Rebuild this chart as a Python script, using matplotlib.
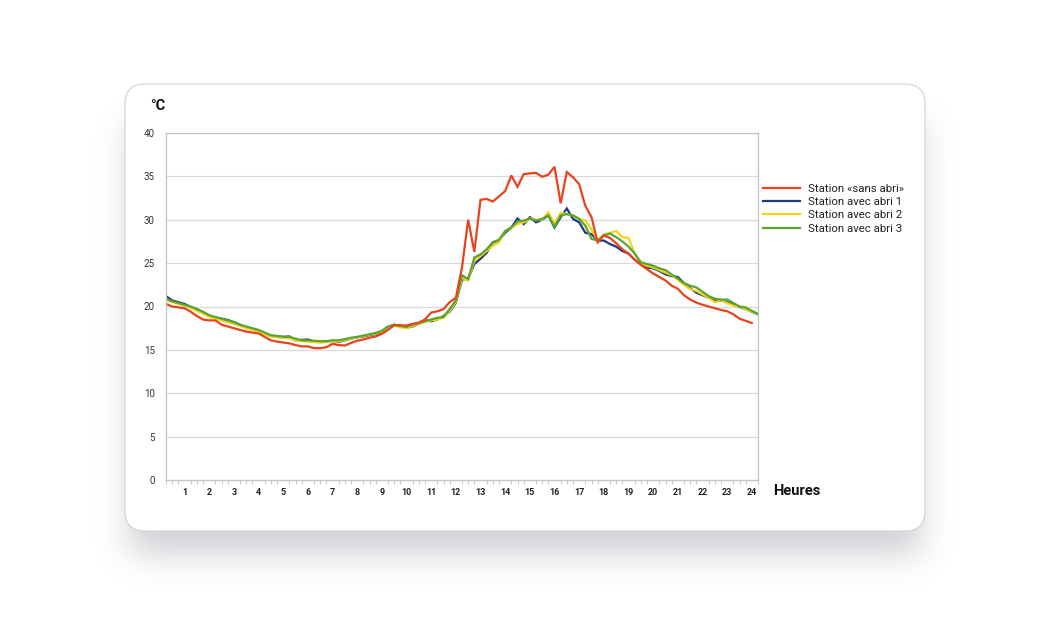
import numpy as np
import matplotlib
matplotlib.use("Agg")
import matplotlib.pyplot as plt
from matplotlib.patches import FancyBboxPatch

plt.rcParams['font.family'] = ['Roboto', 'DejaVu Sans']

# ---- data (15-minute readings, °C) ----
step_h = 0.25
hour_labels = [str(h) for h in range(1, 25)]
y_ticks = [0, 5, 10, 15, 20, 25, 30, 35, 40]

sans_abri = [20.3, 20.0, 19.9, 19.8, 19.4, 18.9, 18.5, 18.4, 18.4, 17.9, 17.7, 17.5,
             17.3, 17.1, 17.0, 16.9, 16.5, 16.1, 15.95, 15.85, 15.75, 15.55, 15.4, 15.4,
             15.2, 15.2, 15.3, 15.7, 15.55, 15.5, 15.8, 16.05, 16.2, 16.4, 16.55, 16.85,
             17.3, 17.85, 17.85, 17.8, 18.0, 18.15, 18.5, 19.3, 19.45, 19.7, 20.5, 21.0,
             24.5, 30.0, 26.3, 32.3, 32.4, 32.1, 32.7, 33.3, 35.1, 33.8, 35.25, 35.35,
             35.4, 34.95, 35.2, 36.1, 31.9, 35.5, 34.9, 34.1, 31.6, 30.3, 27.4, 28.2,
             27.9, 27.3, 26.6, 26.1, 25.4, 24.8, 24.3, 23.8, 23.4, 23.0, 22.4, 22.05,
             21.3, 20.8, 20.45, 20.2, 20.0, 19.8, 19.6, 19.45, 19.1, 18.6, 18.35, 18.1]

abri_1 = [21.2, 20.7, 20.5, 20.3, 19.95, 19.7, 19.3, 18.9, 18.7, 18.6, 18.45, 18.2,
          17.9, 17.6, 17.4, 17.2, 16.9, 16.6, 16.55, 16.5, 16.55, 16.1, 16.15, 16.2,
          15.95, 15.9, 15.95, 16.05, 15.9, 16.1, 16.3, 16.45, 16.55, 16.7, 16.85, 17.0,
          17.6, 17.9, 17.7, 17.55, 17.7, 18.0, 18.4, 18.3, 18.5, 18.9, 19.4, 20.4,
          23.1, 23.2, 24.9, 25.5, 26.2, 27.4, 27.6, 28.5, 29.1, 30.15, 29.5, 30.3,
          29.7, 30.0, 30.5, 29.1, 30.3, 31.3, 30.1, 29.7, 28.5, 28.35, 27.6, 27.6,
          27.2, 26.9, 26.4, 26.1, 25.4, 24.85, 24.5, 24.4, 24.1, 23.7, 23.5, 23.4,
          22.7, 22.1, 21.6, 21.3, 21.0, 20.7, 20.7, 20.5, 20.25, 19.95, 19.7, 19.4, 19.1]

abri_2 = [20.75, 20.5, 20.3, 20.1, 19.85, 19.5, 19.2, 18.8, 18.6, 18.4, 18.2, 18.0,
          17.75, 17.5, 17.3, 17.1, 16.8, 16.55, 16.45, 16.4, 16.35, 16.1, 16.0, 15.95,
          15.9, 15.85, 15.9, 16.0, 15.95, 16.15, 16.3, 16.45, 16.6, 16.75, 16.9, 17.1,
          17.6, 17.8, 17.6, 17.5, 17.75, 18.0, 18.2, 18.4, 18.5, 18.7, 19.5, 20.5,
          23.3, 23.0, 25.3, 25.8, 26.4, 27.0, 27.4, 28.7, 29.1, 29.5, 29.7, 30.15,
          30.0, 30.0, 30.85, 29.5, 30.8, 30.65, 30.5, 30.1, 29.9, 28.9, 27.6, 28.3,
          28.5, 28.7, 28.0, 27.9, 26.1, 25.0, 24.7, 24.5, 24.2, 23.9, 23.6, 23.1,
          22.5, 22.0, 21.8, 21.4, 21.0, 20.5, 20.7, 20.4, 20.1, 20.0, 19.7, 19.4, 19.15]

abri_3 = [20.9, 20.6, 20.4, 20.2, 20.0, 19.7, 19.4, 19.0, 18.8, 18.6, 18.4, 18.2,
          17.9, 17.7, 17.5, 17.3, 17.0, 16.7, 16.6, 16.5, 16.5, 16.3, 16.1, 16.1,
          16.05, 16.0, 16.0, 16.1, 16.1, 16.25, 16.4, 16.5, 16.65, 16.8, 16.95, 17.2,
          17.7, 17.9, 17.75, 17.65, 17.9, 18.1, 18.3, 18.5, 18.7, 18.8, 19.7, 20.7,
          23.6, 23.15, 25.65, 26.0, 26.6, 27.4, 27.7, 28.7, 29.1, 29.8, 29.9, 30.15,
          29.9, 30.1, 30.5, 29.2, 30.5, 30.65, 30.5, 30.1, 29.3, 27.8, 27.6, 28.2,
          28.4, 28.0, 27.5, 26.9, 26.1, 25.1, 24.9, 24.7, 24.4, 24.2, 23.7, 23.2,
          22.7, 22.4, 22.2, 21.7, 21.2, 20.9, 20.8, 20.8, 20.4, 20.0, 19.9, 19.5, 19.15]

series_names = ['Station «sans abri»', 'Station avec abri 1',
                'Station avec abri 2', 'Station avec abri 3']
series_colors = ['#E8431E', '#1F3B80', '#F5D317', '#5AA531']

W, H = 1042, 625
fig = plt.figure(figsize=(W / 100, H / 100), dpi=100)
fig.patch.set_facecolor('white')

# ---- background card with soft blurred shadow (pixel coordinates) ----
bg = fig.add_axes([0, 0, 1, 1], zorder=-5)
bg.set_xlim(0, W)
bg.set_ylim(H, 0)
bg.axis('off')
cx0, cy0, cx1, cy1 = 125, 84, 925, 531

yy, xx = np.mgrid[0:H, 0:W]
sx0, sx1, sy0, sy1 = cx0 + 5, cx1 - 5, cy0 + 40, cy1 + 22
mask = ((xx >= sx0) & (xx <= sx1) & (yy >= sy0) & (yy <= sy1)).astype(float)
sigma = 16.0
kr = np.arange(-int(3 * sigma), int(3 * sigma) + 1)
kern = np.exp(-0.5 * (kr / sigma) ** 2)
kern /= kern.sum()
blur = np.apply_along_axis(lambda r: np.convolve(r, kern, mode='same'), 1, mask)
blur = np.apply_along_axis(lambda c: np.convolve(c, kern, mode='same'), 0, blur)
shadow = np.zeros((H, W, 4))
shadow[..., 0] = 0.55
shadow[..., 1] = 0.57
shadow[..., 2] = 0.60
shadow[..., 3] = blur * 0.42
bg.imshow(shadow, extent=(0, W, H, 0), interpolation='bilinear', zorder=1)
bg.set_xlim(0, W)
bg.set_ylim(H, 0)

bg.add_patch(FancyBboxPatch((cx0, cy0), cx1 - cx0, cy1 - cy0,
                            boxstyle="round,pad=0,rounding_size=20",
                            facecolor='white', edgecolor='#d6d6d6', linewidth=0.9,
                            zorder=2))

# ---- chart ----
ax = fig.add_axes([166 / W, 1 - 480 / H, 592 / W, 347 / H])
ax.set_facecolor('none')

draw_order = [1, 2, 3, 0]
all_series = [sans_abri, abri_1, abri_2, abri_3]
lines = {}
for idx in draw_order:
    vals = all_series[idx]
    x = np.arange(len(vals)) * step_h
    ln, = ax.plot(x, vals, color=series_colors[idx], lw=1.6,
                  label=series_names[idx], solid_joinstyle='miter')
    lines[idx] = ln

ax.set_xlim(0, 24)
ax.set_ylim(0, 40)
ax.set_yticks(y_ticks)
ax.set_yticklabels([str(v) for v in y_ticks])
ax.yaxis.grid(True, color='#d9d9d9', lw=0.9)
ax.set_axisbelow(True)

label_pos = [h - step_h for h in range(1, 25)]
ax.set_xticks(label_pos)
ax.set_xticklabels(hour_labels, fontsize=6.5, fontweight='bold', color='#222222')
ax.set_xticks(np.arange(0, 24.001, step_h), minor=True)
ax.tick_params(axis='x', which='major', length=0, pad=6)
ax.tick_params(axis='x', which='minor', length=3, width=0.6, color='#bbbbbb')
ax.tick_params(axis='y', length=0, pad=8, labelsize=7, labelcolor='#333333')

for s in ax.spines.values():
    s.set_color('#c4c4c4')
    s.set_linewidth(0.9)

fig.text(150 / W, 1 - 106 / H, '°C', fontsize=10.5, fontweight='bold',
         color='#111111', ha='left', va='center')
fig.text(773 / W, 1 - 491 / H, 'Heures', fontsize=10.5, fontweight='bold',
         color='#111111', ha='left', va='center')

handles = [lines[i] for i in range(4)]
leg = fig.legend(handles, series_names, loc='upper left',
                 bbox_to_anchor=(761 / W, 1 - 182 / H), frameon=False,
                 fontsize=8.2, handlelength=3.2, handletextpad=0.75,
                 labelspacing=0.27, borderaxespad=0, borderpad=0.2)
for t in leg.get_texts():
    t.set_color('#222222')

fig.savefig('out.png', dpi=100, facecolor='white')
